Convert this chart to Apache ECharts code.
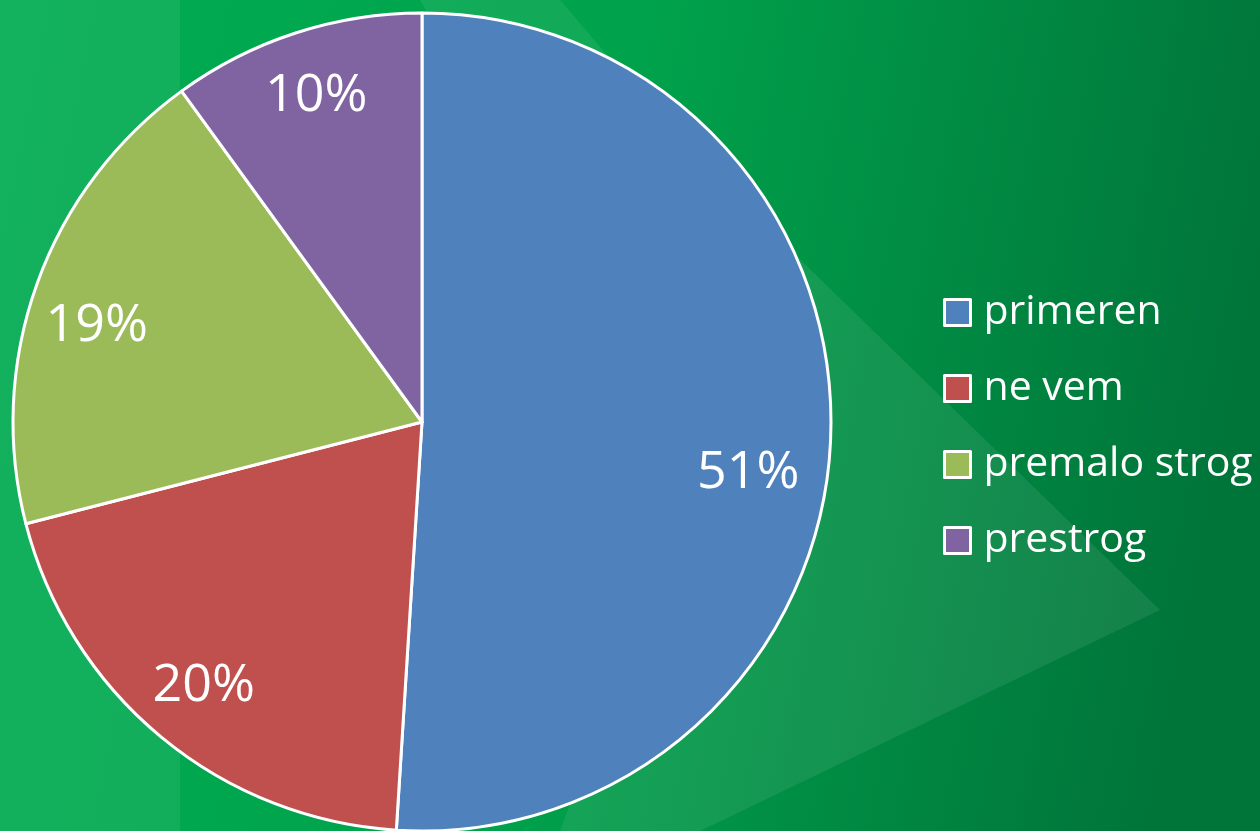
<!DOCTYPE html>
<html>
<head>
<meta charset="utf-8">
<style>
    html, body { margin: 0; padding: 0; }
    #app { width: 1260px; height: 831px; }
</style>
<script src="https://cdn.jsdelivr.net/npm/echarts@6/dist/echarts.min.js"></script>
</head>
<body>
<div id="app"></div>
<script>
// podatki
var names = ['primeren', 'ne vem', 'premalo strog', 'prestrog']
var values = [51, 20, 19, 10]
var colors = ['#4F81BD', '#C0504D', '#9BBB59', '#8064A2']

var chart = echarts.init(document.getElementById('app'))

var pieData = names.map((n, i) => ({ name: n, value: values[i], itemStyle: { color: colors[i] } }))

// oznake malo premaknjene kot v Excelu
var labelData = names.map((n, i) => {
    var item = { name: n, value: values[i] }
    if (i === 0) item.label = { offset: [-16, 40] }
    if (i === 2) item.label = { offset: [-3, 20] }
    return item
})

chart.setOption({
    backgroundColor: {
        type: 'linear', x: 0, y: 0, x2: 1, y2: 0.3,
        colorStops: [
            { offset: 0, color: '#00ad52' },
            { offset: 0.5, color: '#00a24c' },
            { offset: 1, color: '#00753a' }
        ]
    },
    textStyle: { fontFamily: '"Open Sans", sans-serif' },
    graphic: [
        // svetlejše ozadje
        { type: 'rect', silent: true, z: -10, shape: { x: 0, y: 0, width: 180, height: 831 },
          style: { fill: 'rgba(255,255,255,0.07)' } },
        { type: 'polygon', silent: true, z: -10, shape: { points: [[420, 0], [560, 0], [680, 140], [500, 140]] },
          style: { fill: 'rgba(255,255,255,0.07)' } },
        { type: 'polygon', silent: true, z: -10, shape: { points: [[780, 240], [1160, 610], [700, 831], [560, 831]] },
          style: { fill: 'rgba(255,255,255,0.08)' } }
    ],
    legend: {
        orient: 'vertical',
        left: 943,
        top: 292,
        padding: 0,
        icon: 'rect',
        itemWidth: 26,
        itemHeight: 26,
        itemGap: 35,
        data: names,
        itemStyle: { borderColor: '#ffffff', borderWidth: 3 },
        textStyle: { color: '#ffffff', fontSize: 41, lineHeight: 40, padding: [0, 0, 0, 8] }
    },
    series: [
        {
            type: 'pie',
            center: [422, 422],
            radius: [0, 409],
            startAngle: 90,
            clockwise: true,
            animation: false,
            data: pieData,
            itemStyle: { borderColor: '#ffffff', borderWidth: 3 },
            label: { show: false },
            labelLine: { show: false }
        },
        {
            // samo oznake
            type: 'pie',
            center: [422, 422],
            radius: [270, 409],
            startAngle: 90,
            clockwise: true,
            animation: false,
            silent: true,
            data: labelData,
            itemStyle: { color: 'rgba(0,0,0,0)', borderWidth: 0 },
            label: {
                show: true,
                position: 'inside',
                formatter: '{c}%',
                color: '#ffffff',
                fontSize: 52,
                fontFamily: '"Open Sans", sans-serif'
            },
            labelLine: { show: false }
        }
    ]
})
</script>
</body>
</html>
